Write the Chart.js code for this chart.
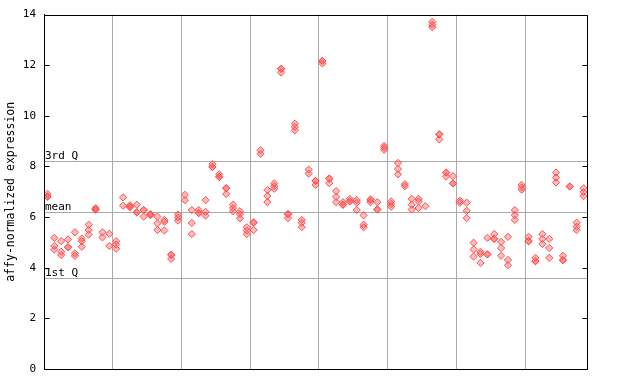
<!DOCTYPE html>
<html>
<head>
<meta charset="utf-8">
<script src="https://cdn.jsdelivr.net/npm/chart.js@4/dist/chart.umd.min.js"></script>
<style>
  html, body { margin: 0; padding: 0; background: #fff; }
  canvas { display: block; }
</style>
</head>
<body>
<canvas id="c" width="640" height="384"></canvas>
<script>
// ---- data ----
const yTitle = "affy-normalized expression";
const yTicks = [0, 2, 4, 6, 8, 10, 12, 14];
const groupBounds = [9.5, 19.5, 29.5, 39.5, 49.5, 59.5, 69.5];
const refLines = [
  { label: "3rd Q", value: 8.21 },
  { label: "mean",  value: 6.21 },
  { label: "1st Q", value: 3.60 }
];
const rep1 = [6.92,5.18,5.05,5.12,5.40,5.15,5.70,6.35,5.40,5.34,
              5.05,6.78,6.47,6.49,6.28,6.11,6.02,5.89,4.51,6.10,
              6.88,6.28,6.28,6.67,8.09,7.69,7.14,6.49,6.23,5.60,
              5.79,8.64,7.07,7.33,11.86,6.12,9.69,5.89,7.88,7.43,
              12.17,7.52,7.03,6.59,6.72,6.67,6.07,6.69,6.59,8.82,
              6.62,8.14,7.30,6.72,6.72,6.43,13.72,9.27,7.76,7.62,
              6.65,6.57,4.99,4.63,5.18,5.33,5.02,5.22,6.28,7.27,
              5.22,4.39,5.33,5.14,7.76,4.47,7.21,5.78,7.14];
const rep2 = [6.82,4.86,4.63,4.81,4.57,5.05,5.49,6.30,5.20,4.86,
              4.92,6.45,6.40,6.19,6.28,6.11,5.75,5.81,4.51,5.99,
              6.67,5.77,6.16,6.21,7.98,7.59,7.14,6.36,6.12,5.47,
              5.79,8.50,6.83,7.22,11.86,6.12,9.56,5.78,7.72,7.43,
              12.17,7.52,6.80,6.49,6.62,6.57,5.70,6.69,6.30,8.74,
              6.52,7.90,7.22,6.49,6.62,null,13.60,9.27,7.76,7.33,
              6.57,6.25,4.72,4.55,4.53,5.14,4.78,4.31,6.08,7.17,
              5.05,4.26,5.14,4.78,7.56,4.30,7.21,5.62,6.99];
const rep3 = [6.80,4.72,4.50,4.81,4.47,4.83,5.31,6.30,null,null,
              4.75,null,6.40,6.19,6.02,6.08,5.49,5.47,4.35,5.86,
              null,5.33,6.16,6.06,7.98,7.59,6.91,6.23,5.95,5.33,
              5.49,null,6.59,7.12,11.71,5.96,9.43,5.60,null,7.27,
              12.07,7.34,6.59,6.49,6.62,6.28,5.60,6.59,6.30,8.66,
              6.41,7.69,null,6.30,6.36,null,13.50,9.07,7.60,7.33,
              null,5.96,4.44,4.19,4.53,5.14,4.47,4.10,5.89,7.08,
              5.05,4.26,4.94,4.39,7.37,4.30,null,5.49,6.83];

const toPts = arr => arr.map((v, i) => ({ x: i, y: v })).filter(p => p.y !== null);
const markerStyle = {
  pointStyle: 'rectRot',
  pointRadius: 3.6,
  pointBorderWidth: 1,
  pointBorderColor: '#ff5050',
  pointBackgroundColor: 'rgba(255,80,80,0.38)',
  showLine: false
};

const MONO = '"DejaVu Sans Mono", "Liberation Mono", monospace';

const framePlugin = {
  id: 'frame',
  beforeDatasetsDraw(chart) {
    const { ctx, chartArea: a, scales: { y } } = chart;
    ctx.save();
    ctx.strokeStyle = '#aaaaaa';
    ctx.lineWidth = 1;
    ctx.font = '11px ' + MONO;
    ctx.fillStyle = '#000';
    ctx.textAlign = 'left';
    ctx.textBaseline = 'alphabetic';
    refLines.forEach(r => {
      const py = Math.round(y.getPixelForValue(r.value)) + 0.5;
      ctx.beginPath();
      ctx.moveTo(a.left, py);
      ctx.lineTo(a.right, py);
      ctx.stroke();
      ctx.fillText(r.label, a.left + 1, py - 3);
    });
    ctx.restore();
  },
  afterDraw(chart) {
    const { ctx, chartArea: a, scales: { y } } = chart;
    ctx.save();
    ctx.strokeStyle = '#000';
    ctx.lineWidth = 1;
    const L = Math.round(a.left) + 0.5, R = Math.round(a.right) + 0.5;
    const T = Math.round(a.top) + 0.5, B = Math.round(a.bottom) + 0.5;
    ctx.beginPath();
    ctx.moveTo(L, T); ctx.lineTo(R, T); ctx.lineTo(R, B); ctx.lineTo(L, B); ctx.closePath();
    ctx.stroke();
    yTicks.forEach(v => {
      const py = Math.round(y.getPixelForValue(v)) + 0.5;
      ctx.beginPath();
      ctx.moveTo(L, py); ctx.lineTo(L + 5, py);
      ctx.moveTo(R, py); ctx.lineTo(R - 5, py);
      ctx.stroke();
    });
    ctx.restore();
  }
};

new Chart(document.getElementById('c'), {
  type: 'scatter',
  data: {
    datasets: [
      Object.assign({ data: toPts(rep1) }, markerStyle),
      Object.assign({ data: toPts(rep2) }, markerStyle),
      Object.assign({ data: toPts(rep3) }, markerStyle)
    ]
  },
  options: {
    responsive: false,
    animation: false,
    devicePixelRatio: 1,
    layout: { padding: { left: 0, right: 53, top: 13, bottom: 15 } },
    plugins: { legend: { display: false }, tooltip: { enabled: false } },
    scales: {
      x: {
        type: 'linear', min: -0.5, max: 78.5,
        afterBuildTicks: ax => { ax.ticks = groupBounds.map(v => ({ value: v })); },
        afterFit: ax => { ax.height = 0; },
        ticks: { display: false },
        grid: { color: '#aaaaaa', lineWidth: 1, drawTicks: false },
        border: { display: true, color: '#000', width: 1 }
      },
      y: {
        min: 0, max: 14,
        afterBuildTicks: ax => { ax.ticks = yTicks.map(v => ({ value: v })); },
        afterFit: ax => { ax.width = 44; },
        ticks: { padding: 8, color: '#000', font: { family: MONO, size: 11 } },
        grid: { display: false, drawTicks: false },
        border: { display: true, color: '#000', width: 1 },
        title: { display: true, text: yTitle, color: '#000', font: { family: MONO, size: 11.5 }, padding: { top: 4, bottom: 4 } }
      }
    }
  },
  plugins: [framePlugin]
});
</script>
</body>
</html>
